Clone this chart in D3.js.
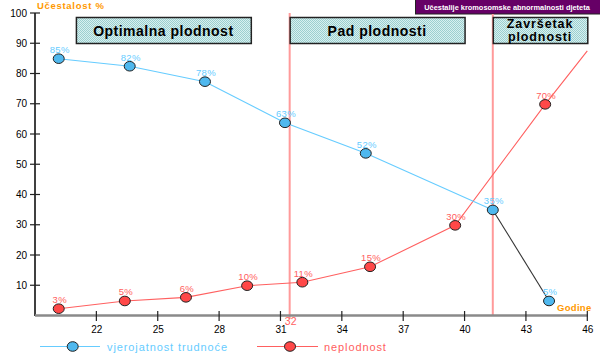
<!DOCTYPE html>
<html><head><meta charset="utf-8">
<script src="https://cdn.jsdelivr.net/npm/d3@7"></script>
<style>html,body{margin:0;padding:0;background:#fff;}svg{display:block;font-family:"Liberation Sans",Arial,sans-serif;}</style>
</head><body>
<svg id="c" width="600" height="361"></svg>
<script>
// ---- data ----
const blueAges   = [20.16, 23.63, 27.31, 31.22, 35.17, 41.38, 44.13];
const blueValues = [84.9, 82.4, 77.3, 63.7, 53.6, 34.9, 4.8];
const blueLabels = ["85%","82%","78%","63%","52%","35%","5%"];
const redAges    = [20.16, 23.39, 26.38, 29.37, 32.07, 35.38, 39.54, 43.94, 46];
const redValues  = [2.25, 4.8, 6.0, 9.85, 11.0, 16.1, 29.8, 69.8, 87.5];
const redLabels  = ["3%","5%","6%","10%","11%","15%","30%","70%", null];
const xTicks = [22,25,28,31,34,37,40,43,46];
const yTicks = [10,20,30,40,50,60,70,80,90,100];
const phaseLines = [31.45, 41.38];
const phaseLineLabel = "32";
const phases = [
  {from: 21.0, to: 29.55, lines: ["Optimalna plodnost"]},
  {from: 31.45, to: 40.0, lines: ["Pad plodnosti"]},
  {from: 41.38, to: 46.0, lines: ["Završetak","plodnosti"]}
];
const seriesNames = ["vjerojatnost trudnoće", "neplodnost"];
const yTitle = "Učestalost %", xTitle = "Godine";
const noteText = "Učestalije kromosomske abnormalnosti djeteta";

// ---- drawing ----
const svg = d3.select("#c");
const x = d3.scaleLinear().domain([19,46]).range([35,587.3]);
const y = d3.scaleLinear().domain([0,100]).range([315.5,13]);
const BLUE = "#66ccff", BLUE_FILL = "#4fb8ee", RED = "#ff6060", RED_FILL = "#ff4848";

const defs = svg.append("defs");
const pat = defs.append("pattern").attr("id","dith").attr("width",2).attr("height",2).attr("patternUnits","userSpaceOnUse");
pat.append("rect").attr("width",2).attr("height",2).attr("fill","#d8f0f0");
pat.append("rect").attr("width",1).attr("height",1).attr("fill","#9ccfcf");
pat.append("rect").attr("x",1).attr("y",1).attr("width",1).attr("height",1).attr("fill","#9ccfcf");

// purple note box
svg.append("rect").attr("x",415.5).attr("y",-1).attr("width",186).attr("height",15)
  .attr("fill","#660066").attr("stroke","#222").attr("stroke-width",1);
svg.append("text").attr("x",507).attr("y",10).attr("text-anchor","middle")
  .attr("fill","#fff").attr("font-size","7.4px").attr("font-weight","bold").text(noteText);

// phase vertical lines
svg.selectAll(".pl").data(phaseLines).enter().append("line")
  .attr("x1",d=>x(d)).attr("x2",d=>x(d))
  .attr("y1",(d,i)=>i===0?13:14).attr("y2",(d,i)=>i===0?319:315)
  .attr("stroke","#ff9a9a").attr("stroke-width",2);
svg.append("text").attr("x",x(phaseLines[0])+1).attr("y",325).attr("text-anchor","middle")
  .attr("fill",RED).attr("font-size","10.5px").text(phaseLineLabel);

// phase boxes
phases.forEach(p=>{
  const x0 = x(p.from), x1 = x(p.to);
  svg.append("rect").attr("x",x0+0.5).attr("y",17.5).attr("width",x1-x0).attr("height",26)
    .attr("fill","url(#dith)").attr("stroke","#222").attr("stroke-width",1.5);
  const cx = (x0+x1)/2;
  if (p.lines.length===1) {
    svg.append("text").attr("x",cx).attr("y",35.5).attr("text-anchor","middle")
      .attr("font-size","14px").attr("font-weight","bold").attr("letter-spacing","0.5px").attr("fill","#000").text(p.lines[0]);
  } else {
    p.lines.forEach((t,i)=>svg.append("text").attr("x",cx).attr("y",28+i*12.5).attr("text-anchor","middle")
      .attr("font-size","12.5px").attr("font-weight","bold").attr("letter-spacing","0.9px").attr("fill","#000").text(t));
  }
});

// y axis
const yAx = svg.append("g").attr("transform","translate(35,0)")
  .call(d3.axisLeft(y).tickValues(yTicks).tickSize(0).tickPadding(8));
yAx.select(".domain").remove();
yAx.selectAll("text").attr("font-size","10px").attr("fill","#000").attr("font-family","Liberation Sans, Arial");
svg.append("line").attr("x1",35).attr("x2",35).attr("y1",13).attr("y2",316).attr("stroke","#000").attr("stroke-width",1.5);
svg.selectAll(".yt").data(yTicks).enter().append("line")
  .attr("x1",30).attr("x2",40).attr("y1",d=>y(d)).attr("y2",d=>y(d)).attr("stroke","#222").attr("stroke-width",1.2);

// x axis
svg.append("line").attr("x1",35).attr("x2",588).attr("y1",315.5).attr("y2",315.5).attr("stroke","#8a8a8a").attr("stroke-width",2.5);
const xAx = svg.append("g").attr("transform","translate(0,316)")
  .call(d3.axisBottom(x).tickValues(xTicks).tickSize(0).tickPadding(10));
xAx.select(".domain").remove();
xAx.selectAll("text").attr("font-size","10px").attr("fill","#000").attr("font-family","Liberation Sans, Arial");
svg.selectAll(".xt").data(xTicks).enter().append("line")
  .attr("x1",d=>x(d)).attr("x2",d=>x(d)).attr("y1",311).attr("y2",321).attr("stroke","#222").attr("stroke-width",1.2);

// titles
svg.append("text").attr("x",37).attr("y",9).attr("fill","#ff9900").attr("font-size","9.5px").attr("font-weight","bold").attr("letter-spacing","0.7px").text(yTitle);
svg.append("text").attr("x",557).attr("y",311).attr("fill","#ff9900").attr("font-size","9.5px").attr("font-weight","bold").attr("letter-spacing","0.3px").text(xTitle);

// series data
const blue = blueAges.map((a,i)=>({a, v:blueValues[i], l:blueLabels[i]}));
const red  = redAges.map((a,i)=>({a, v:redValues[i], l:redLabels[i]}));
const line = d3.line().x(d=>x(d.a)).y(d=>y(d.v));

// red line
svg.append("path").datum(red).attr("d",line).attr("fill","none").attr("stroke",RED).attr("stroke-width",1.1);
// blue line (last segment dark)
svg.append("path").datum(blue.slice(0,blue.length-1)).attr("d",line).attr("fill","none").attr("stroke",BLUE).attr("stroke-width",1.1);
svg.append("path").datum(blue.slice(blue.length-2)).attr("d",line).attr("fill","none").attr("stroke","#333").attr("stroke-width",1.1);

// markers
svg.selectAll(".rm").data(red.filter(d=>d.l)).enter().append("ellipse")
  .attr("cx",d=>x(d.a)).attr("cy",d=>y(d.v)).attr("rx",5.5).attr("ry",4.8)
  .attr("fill",RED_FILL).attr("stroke","#222").attr("stroke-width",1);
svg.selectAll(".bm").data(blue).enter().append("ellipse")
  .attr("cx",d=>x(d.a)).attr("cy",d=>y(d.v)).attr("rx",5.5).attr("ry",4.8)
  .attr("fill",BLUE_FILL).attr("stroke","#222").attr("stroke-width",1);

// labels
svg.selectAll(".rl").data(red.filter(d=>d.l)).enter().append("text")
  .attr("x",d=>x(d.a)+1).attr("y",d=>y(d.v)-5.5).attr("text-anchor","middle")
  .attr("fill",RED).attr("font-size","9.5px").attr("letter-spacing","0.3px").text(d=>d.l);
svg.selectAll(".bl").data(blue).enter().append("text")
  .attr("x",d=>x(d.a)+1).attr("y",d=>y(d.v)-5.5).attr("text-anchor","middle")
  .attr("fill",BLUE).attr("font-size","9.5px").attr("letter-spacing","0.3px").text(d=>d.l);

// legend
const lg = [
  {x0:40, x1:100, cx:72.7, tx:107, col:BLUE, fill:BLUE_FILL, name:seriesNames[0], ls:"0.9px"},
  {x0:257, x1:318, cx:290, tx:324, col:RED, fill:RED_FILL, name:seriesNames[1], ls:"0.9px"}
];
lg.forEach(l=>{
  svg.append("line").attr("x1",l.x0).attr("x2",l.x1).attr("y1",346.5).attr("y2",346.5).attr("stroke",l.col).attr("stroke-width",1.2);
  svg.append("ellipse").attr("cx",l.cx).attr("cy",346.5).attr("rx",5.5).attr("ry",4.8).attr("fill",l.fill).attr("stroke","#222").attr("stroke-width",1);
  svg.append("text").attr("x",l.tx).attr("y",350.5).attr("fill",l.col).attr("font-size","11px").attr("letter-spacing",l.ls).text(l.name);
});
</script>
</body></html>
